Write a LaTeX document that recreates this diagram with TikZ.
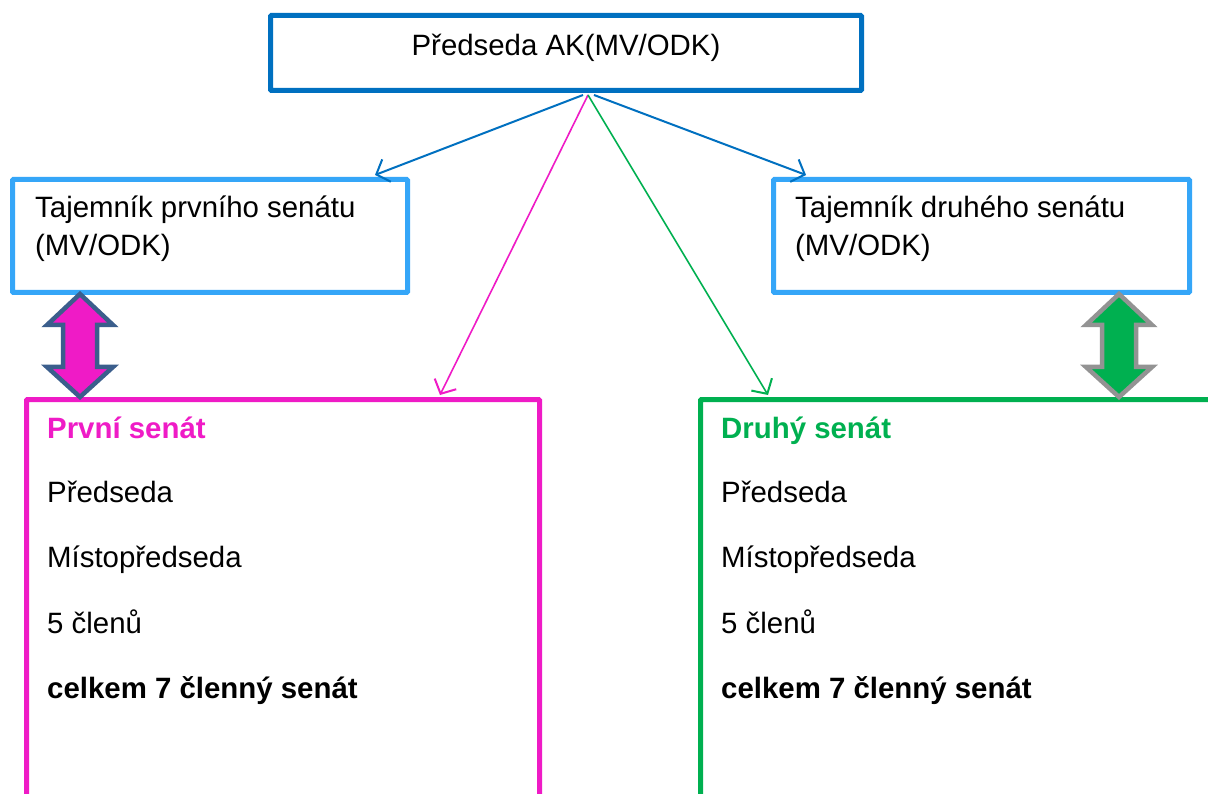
\documentclass[tikz,border=0pt]{standalone}
\usepackage{fontspec}
\setmainfont{Liberation Sans}
\usetikzlibrary{arrows.meta,calc}
\definecolor{topblue}{HTML}{0070C0}
\definecolor{lightblue}{HTML}{35A6F8}
\definecolor{pinkc}{HTML}{EF1BC6}
\definecolor{greenc}{HTML}{00B050}
\definecolor{slatec}{HTML}{3B5E8C}
\definecolor{greyc}{HTML}{939393}
\begin{document}
\begin{tikzpicture}[x=1pt,y=-1pt,
  txt/.style={font=\fontsize{29.4}{35}\selectfont, inner sep=0pt, anchor=base west},
  boldtxt/.style={txt, font=\fontsize{29.4}{35}\selectfont\bfseries},
  boxframe/.style={draw, line width=5pt, rectangle, inner sep=0pt, rounded corners=1pt},
  conn/.style={line width=2pt, -{Straight Barb[length=11pt,width=24pt,line width=2pt]}},
  dblarrow/.style={line width=4.5pt, line join=miter}]
\useasboundingbox (0,0) rectangle (1208,794);
\fill[white] (0,0) rectangle (1208,794);
\clip (0,0) rectangle (1208,794);

% boxes
\node[boxframe, draw=topblue, minimum width=591pt, minimum height=75pt] (top) at (566,53) {};
\node[boxframe, draw=lightblue, minimum width=395pt, minimum height=113pt] (tl) at (210,236) {};
\node[boxframe, draw=lightblue, minimum width=416pt, minimum height=113pt] (tr) at (981.5,236) {};
\node[boxframe, draw=pinkc, minimum width=513pt, minimum height=600pt] (sl) at (283,699.5) {};
\node[boxframe, draw=greenc, minimum width=600pt, minimum height=600pt] (sr) at (1000.5,699.5) {};

% texts
\node[txt, anchor=base] (toptxt) at (566,56) {Předseda AK(MV/ODK)};
\node[txt] (tl1) at (35,218) {Tajemník prvního senátu};
\node[txt] (tl2) at (35,256) {(MV/ODK)};
\node[txt] (tr1) at (795,218) {Tajemník druhého senátu};
\node[txt] (tr2) at (795,256) {(MV/ODK)};

\node[boldtxt, text=pinkc] (sl1) at (47,438) {První senát};
\node[txt] (sl2) at (47,502) {Předseda};
\node[txt] (sl3) at (47,567) {Místopředseda};
\node[txt] (sl4) at (47,633) {5 členů};
\node[boldtxt] (sl5) at (47,698) {celkem 7 členný senát};

\node[boldtxt, text=greenc] (sr1) at (721,438) {Druhý senát};
\node[txt] (sr2) at (721,502) {Předseda};
\node[txt] (sr3) at (721,567) {Místopředseda};
\node[txt] (sr4) at (721,633) {5 členů};
\node[boldtxt] (sr5) at (721,698) {celkem 7 členný senát};

% connectors
\coordinate (hubL) at ($(top.south)+(17,2)$);
\coordinate (hubM) at ($(top.south)+(22,2)$);
\coordinate (hubR) at ($(top.south)+(28,2)$);
\coordinate (tlin) at ($(tl.north east)+(-35,-2)$);
\coordinate (trin) at ($(tr.north west)+(35,-2)$);
\coordinate (slin) at ($(sl.north east)+(-102,-2)$);
\coordinate (srin) at ($(sr.north west)+(70,-2)$);
\draw[conn, topblue] (hubL) -- (tlin);
\draw[conn, topblue] (hubR) -- (trin);
\draw[conn, pinkc, line width=1.6pt] (hubM) -- (slin);
\draw[conn, greenc, line width=1.6pt] (hubM) -- (srin);

% double arrows
\draw[dblarrow, draw=slatec, fill=pinkc]
  (80,294) -- (113,325) -- (97,325) -- (97,367) -- (113,367) -- (80,397)
  -- (47,367) -- (63,367) -- (63,325) -- (47,325) -- cycle;
\draw[dblarrow, draw=greyc, fill=greenc]
  (1119,294) -- (1152,325) -- (1136,325) -- (1136,367) -- (1152,367) -- (1119,397)
  -- (1086,367) -- (1102,367) -- (1102,325) -- (1086,325) -- cycle;
\end{tikzpicture}
\end{document}
